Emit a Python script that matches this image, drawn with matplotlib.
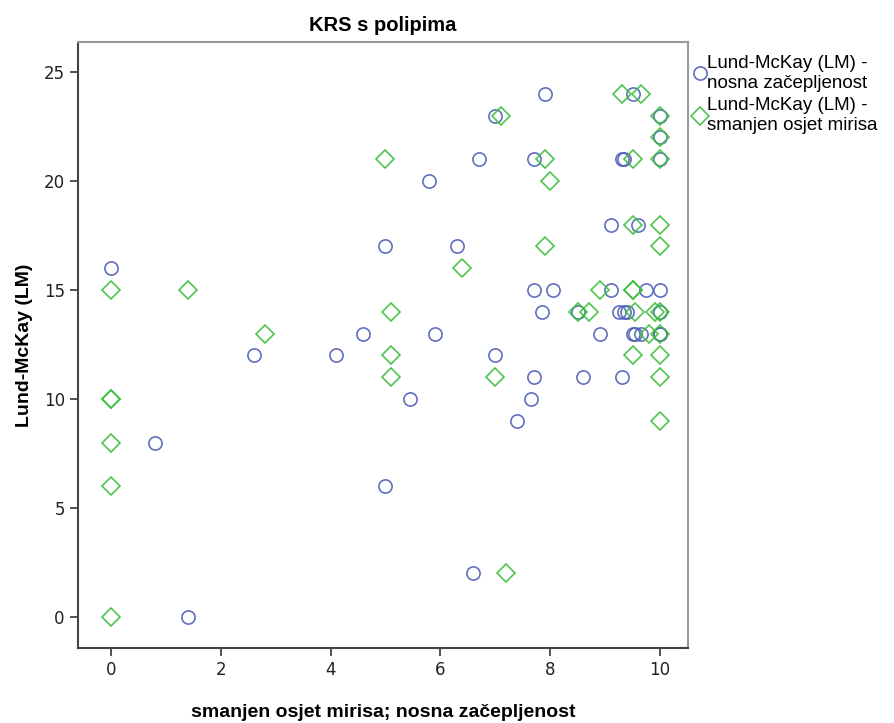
import matplotlib
matplotlib.use("Agg")
import matplotlib.pyplot as plt

# Lund-McKay (LM) - nosna začepljenost
nosna_x = [0, 0.8, 1.4, 2.6, 4.1, 4.6, 5.0, 5.0, 5.45, 5.8, 5.9, 6.3, 6.6, 6.7,
           7.0, 7.0, 7.4, 7.65, 7.7, 7.7, 7.7, 7.85, 7.9, 8.05, 8.5, 8.6, 8.9,
           9.1, 9.1, 9.25, 9.3, 9.3, 9.35, 9.35, 9.4, 9.5, 9.5, 9.55, 9.6, 9.65,
           9.75, 10, 10, 10, 10, 10, 10, 10]
nosna_y = [16, 8, 0, 12, 12, 13, 17, 6, 10, 20, 13, 17, 2, 21,
           23, 12, 9, 10, 21, 15, 11, 14, 24, 15, 14, 11, 13,
           18, 15, 14, 21, 11, 14, 21, 14, 24, 13, 13, 18, 13,
           15, 23, 22, 21, 15, 14, 13, 13]

# Lund-McKay (LM) - smanjen osjet mirisa
miris_x = [0, 0, 0, 0, 0, 0, 1.4, 2.8, 5.0, 5.1, 5.1, 5.1, 6.4, 7.0, 7.1, 7.2,
           7.9, 7.9, 8.0, 8.5, 8.7, 8.9, 9.3, 9.5, 9.5, 9.5, 9.5, 9.55, 9.5,
           9.65, 9.8, 9.9, 10, 10, 10, 10, 10, 10, 10, 10, 10, 10]
miris_y = [15, 10, 10, 8, 6, 0, 15, 13, 21, 14, 12, 11, 16, 11, 23, 2,
           21, 17, 20, 14, 14, 15, 24, 15, 15, 21, 18, 14, 12,
           24, 13, 14, 23, 22, 21, 18, 17, 14, 13, 12, 11, 9]

x_ticks = [0, 2, 4, 6, 8, 10]
y_ticks = [0, 5, 10, 15, 20, 25]

fig = plt.figure(figsize=(8.94, 7.23), dpi=100)
ax = fig.add_axes([0.0872, 0.1037, 0.6824, 0.8382])

blue = "#4f60b8"
green = "#3cbf3c"
ax.plot(nosna_x, nosna_y, linestyle="none", marker="o", ms=9.5, mfc="none",
        mec=blue, mew=1.2, alpha=0.9, label="Lund-McKay (LM) -\nnosna začepljenost")
ax.plot(miris_x, miris_y, linestyle="none", marker="D", ms=9.5, mfc="none",
        mec=green, mew=1.2, alpha=0.9, label="Lund-McKay (LM) -\nsmanjen osjet mirisa")

ax.set_xlim(-0.6, 10.51)
ax.set_ylim(-1.42, 26.38)
ax.set_xticks(x_ticks)
ax.set_yticks(y_ticks)
ax.tick_params(direction="out", length=6, width=1.2, color="#333333",
               labelsize=12, labelcolor="#222222")

for side in ["left", "bottom"]:
    ax.spines[side].set_color("#444444")
    ax.spines[side].set_linewidth(1.5)
for side in ["top", "right"]:
    ax.spines[side].set_color("#999999")
    ax.spines[side].set_linewidth(1.5)

ax.set_title("KRS s polipima", fontsize=14.5, fontweight="bold",
             family="Liberation Sans", pad=8)
ax.set_xlabel("smanjen osjet mirisa; nosna začepljenost", fontsize=14,
              fontweight="bold", family="Liberation Sans", labelpad=18)
ax.set_ylabel("Lund-McKay (LM)", fontsize=14, fontweight="bold",
              family="Liberation Sans", labelpad=8)

leg = ax.legend(loc="upper left", bbox_to_anchor=(0.99, 1.0), frameon=False,
                prop={"family": "Liberation Sans", "size": 13.5},
                handlelength=0.5, handletextpad=0.15, borderaxespad=0.3,
                labelspacing=0.3)

fig.savefig("out.png", dpi=100)
